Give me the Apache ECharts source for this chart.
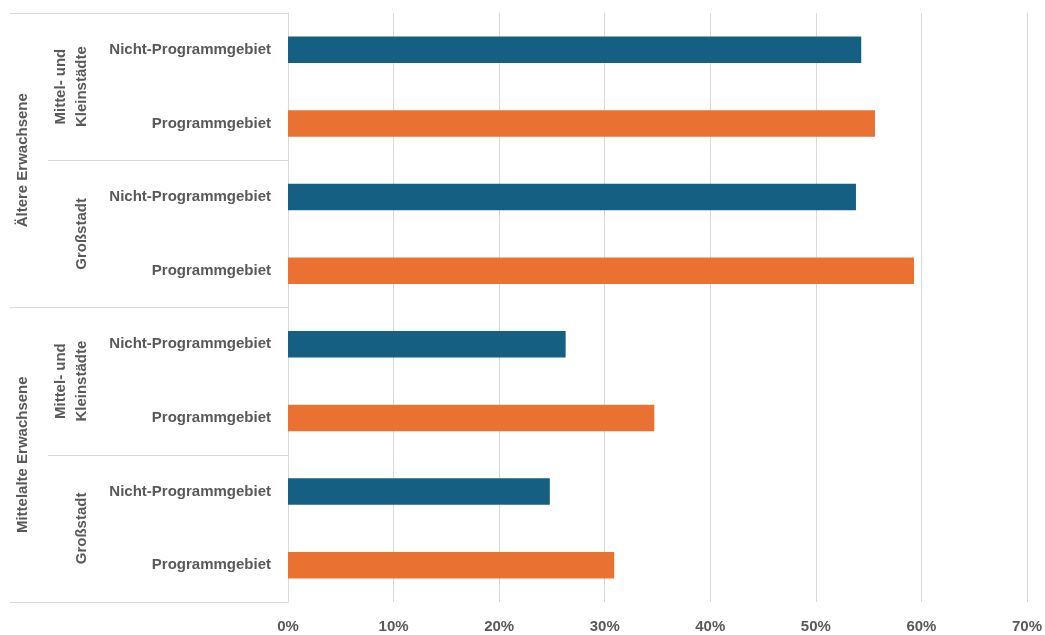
<!DOCTYPE html>
<html>
<head>
<meta charset="utf-8">
<script src="https://cdn.jsdelivr.net/npm/echarts@6/dist/echarts.min.js"></script>
<style>
  html, body { margin: 0; padding: 0; background: #ffffff; }
  #chart { width: 1045px; height: 635px; }
</style>
</head>
<body>
<div id="chart"></div>
<script>
// Innermost level: area type per bar (top to bottom)
const areaLabels = [
  'Nicht-Programmgebiet', 'Programmgebiet',
  'Nicht-Programmgebiet', 'Programmgebiet',
  'Nicht-Programmgebiet', 'Programmgebiet',
  'Nicht-Programmgebiet', 'Programmgebiet'
];
// Middle level: city size
const cityLabels = ['Mittel- und\nKleinstädte', 'Großstadt', 'Mittel- und\nKleinstädte', 'Großstadt'];
// Outer level: age group
const ageLabels = ['Ältere Erwachsene', 'Mittelalte Erwachsene'];
// Share in percent
const shares = [54.3, 55.6, 53.8, 59.3, 26.3, 34.7, 24.8, 30.9];
// x-axis ticks (percent)
const xTicks = [0, 10, 20, 30, 40, 50, 60, 70];

const BLUE = '#156082';
const ORANGE = '#E97132';
const TEXT = '#595959';
const LINE = '#d9d9d9';
const FONT = '"Liberation Sans Narrow", "Liberation Sans", Arial, sans-serif';

const chart = echarts.init(document.getElementById('chart'));

const labelBase = {
  color: TEXT,
  fontFamily: FONT,
  fontWeight: 'bold',
  fontSize: 15
};

chart.setOption({
  animation: false,
  backgroundColor: '#ffffff',
  grid: { left: 288, right: 16, top: 13, bottom: 33, containLabel: false },
  xAxis: {
    type: 'value',
    min: xTicks[0],
    max: xTicks[xTicks.length - 1],
    interval: 10,
    axisLine: { show: false },
    axisTick: { show: false },
    splitLine: { show: true, lineStyle: { color: LINE, width: 1 } },
    axisLabel: Object.assign({}, labelBase, {
      margin: 17,
      formatter: v => v + '%'
    })
  },
  yAxis: [
    {
      type: 'category',
      inverse: true,
      data: areaLabels,
      axisLine: { show: true, lineStyle: { color: LINE, width: 1 } },
      axisTick: { show: false },
      axisLabel: Object.assign({}, labelBase, { margin: 17, padding: [3, 0, 0, 0] })
    },
    {
      type: 'category',
      inverse: true,
      data: cityLabels,
      position: 'left',
      axisLine: { show: false },
      axisTick: { show: true, length: 240, lineStyle: { color: LINE, width: 1 } },
      axisLabel: Object.assign({}, labelBase, { margin: 196, rotate: 90, lineHeight: 21 })
    },
    {
      type: 'category',
      inverse: true,
      data: ageLabels,
      position: 'left',
      axisLine: { show: false },
      axisTick: { show: true, length: 278, lineStyle: { color: LINE, width: 1 } },
      axisLabel: Object.assign({}, labelBase, { margin: 258, rotate: 90 })
    }
  ],
  series: [{
    type: 'bar',
    yAxisIndex: 0,
    barWidth: '36%',
    data: shares.map((v, i) => ({
      value: v,
      itemStyle: { color: areaLabels[i] === 'Programmgebiet' ? ORANGE : BLUE }
    }))
  }]
});
</script>
</body>
</html>
